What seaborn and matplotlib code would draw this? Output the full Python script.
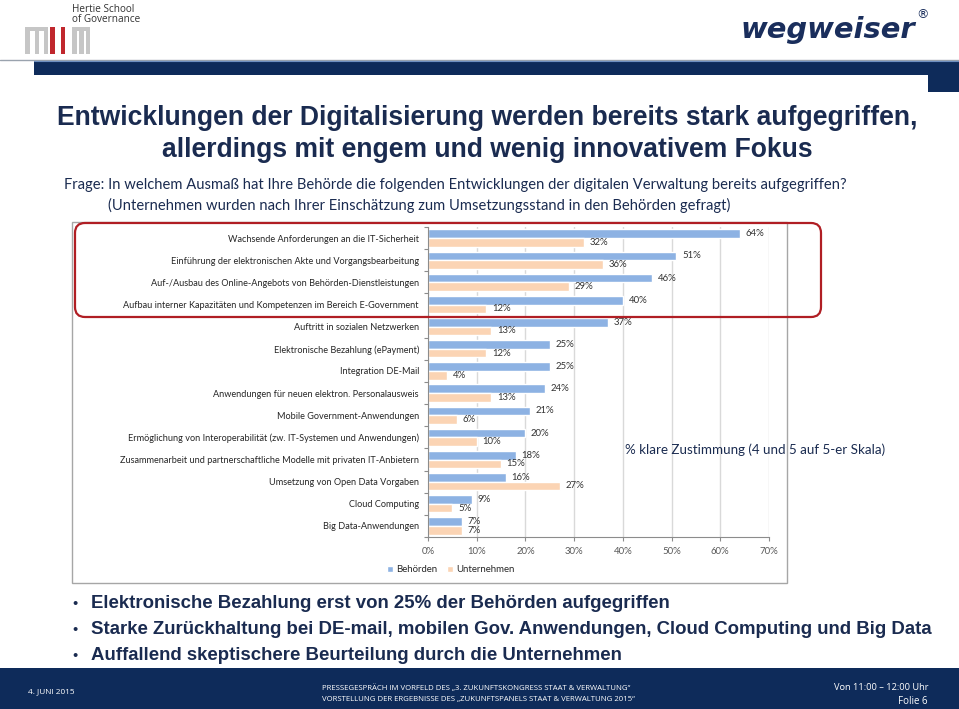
import matplotlib
matplotlib.use("Agg")
import matplotlib.pyplot as plt
from matplotlib.patches import Rectangle, FancyBboxPatch
from matplotlib.transforms import Affine2D
from matplotlib.lines import Line2D
import seaborn as sns
import pandas as pd
import numpy as np

# ---------------- data ----------------
categories = [
    "Wachsende Anforderungen an die IT-Sicherheit",
    "Einführung der elektronischen Akte und Vorgangsbearbeitung",
    "Auf-/Ausbau des Online-Angebots von Behörden-Dienstleistungen",
    "Aufbau interner Kapazitäten und Kompetenzen im Bereich E-Government",
    "Auftritt in sozialen Netzwerken",
    "Elektronische Bezahlung (ePayment)",
    "Integration DE-Mail",
    "Anwendungen für neuen elektron. Personalausweis",
    "Mobile Government-Anwendungen",
    "Ermöglichung von Interoperabilität (zw. IT-Systemen und Anwendungen)",
    "Zusammenarbeit und partnerschaftliche Modelle mit privaten IT-Anbietern",
    "Umsetzung von Open Data Vorgaben",
    "Cloud Computing",
    "Big Data-Anwendungen",
]
behoerden = [64, 51, 46, 40, 37, 25, 25, 24, 21, 20, 18, 16, 9, 7]
unternehmen = [32, 36, 29, 12, 13, 12, 4, 13, 6, 10, 15, 27, 5, 7]
series_names = ["Behörden", "Unternehmen"]
xticks = [0, 10, 20, 30, 40, 50, 60, 70]
xtick_labels = ["0%", "10%", "20%", "30%", "40%", "50%", "60%", "70%"]

title_lines = [
    "Entwicklungen der Digitalisierung werden bereits stark aufgegriffen,",
    "allerdings mit engem und wenig innovativem Fokus",
]
question_lines = [
    "Frage: In welchem Ausmaß hat Ihre Behörde die folgenden Entwicklungen der digitalen Verwaltung bereits aufgegriffen?",
    "(Unternehmen wurden nach Ihrer Einschätzung zum Umsetzungsstand in den Behörden gefragt)",
]
annotation = "% klare Zustimmung (4 und 5 auf 5-er Skala)"
bullets = [
    "Elektronische Bezahlung erst von 25% der Behörden aufgegriffen",
    "Starke Zurückhaltung bei DE-mail, mobilen Gov. Anwendungen, Cloud Computing und Big Data",
    "Auffallend skeptischere Beurteilung durch die Unternehmen",
]
footer_left = "4. JUNI 2015"
footer_center = [
    "PRESSEGESPRÄCH IM VORFELD DES „3. ZUKUNFTSKONGRESS STAAT & VERWALTUNG“",
    "VORSTELLUNG DER ERGEBNISSE DES „ZUKUNFTSPANELS STAAT & VERWALTUNG 2015“",
]
footer_right = ["Von 11:00 – 12:00 Uhr", "Folie 6"]

# ---------------- style ----------------
NAVY = "#0E2B5A"
TEXT_NAVY = "#1A2B50"
BLUE = "#8DB2E3"
ORANGE = "#FBD4B4"

sns.set_theme(style="white")
plt.rcParams["font.family"] = ["Lato", "DejaVu Sans"]

W, H = 959, 709
fig = plt.figure(figsize=(W / 100, H / 100), dpi=100)
fig.patch.set_facecolor("white")
PX = Affine2D().scale(0.01, -0.01).translate(0, H / 100) + fig.dpi_scale_trans
renderer = fig.canvas.get_renderer()


def fit_text(x, y, s, width=None, size=10, **kw):
    t = fig.text(x, y, s, transform=PX, fontsize=size, **kw)
    if width is not None:
        w = t.get_window_extent(renderer=renderer).width
        t.set_fontsize(size * width / w)
    return t


def rect(x, y, w, h, color, **kw):
    fig.patches.append(Rectangle((x, y), w, h, transform=PX, facecolor=color,
                                 edgecolor="none", **kw))

# ---------------- header ----------------
fig.add_artist(Line2D([0, W], [60, 60], transform=PX, color="#9AA3AE", lw=1))
rect(34, 61, W - 34, 14, NAVY)
fig.add_artist(Line2D([34, W], [61, 61], transform=PX, color="#6E8FC0", lw=0.8))
rect(928, 75, 31, 17, NAVY)

GRAY = "#C6C6C6"
RED = "#C0272D"
# logo
rect(25, 27, 23, 4, GRAY)
for lx in (25, 34.5, 43.5):
    rect(lx, 27, 4.5, 27, GRAY)
rect(50, 27, 4.5, 27, RED)
rect(60.5, 27, 4.5, 27, RED)
rect(72, 27, 18, 4, GRAY)
for lx in (72, 79, 85.5):
    rect(lx, 27, 4.5, 27, GRAY)
fit_text(72, 9, "Hertie School", size=7.2, color="#333333", va="center",
         family=["Open Sans", "DejaVu Sans"])
fit_text(72, 19, "of Governance", size=7.2, color="#333333", va="center",
         family=["Open Sans", "DejaVu Sans"])

fit_text(740, 30, "wegweiser", width=175, size=24, color="#1A2E5C",
         va="center", ha="left", weight="heavy", style="italic",
         family=["DejaVu Sans"])
fit_text(916, 15, "®", size=9, color="#1A2E5C", va="center", ha="left",
         family=["DejaVu Sans"])

# ---------------- title & question ----------------
t1 = fit_text(487, 118, title_lines[0], width=863, size=17, color=TEXT_NAVY,
              ha="center", va="center", weight="bold",
              family=["Liberation Sans", "DejaVu Sans"])
fit_text(487, 150, title_lines[1], size=t1.get_fontsize(), color=TEXT_NAVY,
         ha="center", va="center", weight="bold",
         family=["Liberation Sans", "DejaVu Sans"])
q1 = fit_text(64, 185, question_lines[0], width=781, size=10, color=TEXT_NAVY,
              ha="left", va="center")
fit_text(108, 205, question_lines[1], size=q1.get_fontsize(), color=TEXT_NAVY,
         ha="left", va="center")

# ---------------- chart ----------------
fig.patches.append(Rectangle((72, 222), 715, 361, transform=PX, facecolor="none",
                             edgecolor="#A6A6A6", lw=1))

ax_left, ax_right, ax_top, ax_bot = 428, 769, 227, 537
ax = fig.add_axes([ax_left / W, 1 - ax_bot / H, (ax_right - ax_left) / W,
                   (ax_bot - ax_top) / H])
df = pd.DataFrame({
    "Kategorie": categories * 2,
    "Wert": behoerden + unternehmen,
    "Gruppe": [series_names[0]] * len(categories) + [series_names[1]] * len(categories),
})
sns.barplot(data=df, y="Kategorie", x="Wert", hue="Gruppe", orient="h",
            palette=[BLUE, ORANGE], saturation=1, width=0.78, ax=ax,
            order=categories, hue_order=series_names, errorbar=None)
ax.set_xlim(0, 70)
ax.set_xticks(xticks)
ax.set_xticklabels(xtick_labels)
ax.set_xlabel("")
ax.set_ylabel("")
ax.set_facecolor("none")
ax.grid(axis="x", color="#D9D9D9", lw=1)
ax.grid(axis="y", visible=False)
ax.set_axisbelow(True)
for side in ("top", "right"):
    ax.spines[side].set_visible(False)
for side in ("left", "bottom"):
    ax.spines[side].set_color("#8C8C8C")
    ax.spines[side].set_linewidth(0.8)
ax.set_yticks(np.arange(-0.5, len(categories), 1), minor=True)
ax.tick_params(axis="y", which="major", length=0, pad=6.5, labelsize=6.6,
               labelcolor="#262626")
ax.tick_params(axis="y", which="minor", length=3, width=0.8, color="#8C8C8C",
               left=True, direction="out")
ax.tick_params(axis="x", which="major", length=3, width=0.8, color="#8C8C8C",
               bottom=True, pad=4, labelsize=6.9, labelcolor="#595959")
for c in ax.containers:
    ax.bar_label(c, labels=[f"{v:g}%" for v in c.datavalues], padding=4,
                 fontsize=6.9, color="#333333")

leg = ax.legend(loc="center", bbox_to_anchor=(451 / W, 1 - 570 / H),
                bbox_transform=fig.transFigure, ncol=2, frameon=False,
                handlelength=0.6, handleheight=0.6, handletextpad=0.4,
                columnspacing=1.0, fontsize=6.9)
for t in leg.get_texts():
    t.set_color("#262626")

fit_text(625, 450, annotation, width=260, size=9, color=TEXT_NAVY,
         ha="left", va="center")

fig.patches.append(FancyBboxPatch((75, 223), 746, 94,
                                  boxstyle="round,pad=0,rounding_size=10",
                                  transform=PX, facecolor="none",
                                  edgecolor="#B01E24", lw=1.6))

# ---------------- bullets ----------------
b2 = fit_text(91, 630, bullets[1], width=842, size=12, color=TEXT_NAVY,
              ha="left", va="center", weight="bold",
              family=["Liberation Sans", "DejaVu Sans"])
bsize = b2.get_fontsize()
for i, yy in enumerate([604, 630, 656]):
    if i != 1:
        fit_text(91, yy, bullets[i], size=bsize, color=TEXT_NAVY, ha="left",
                 va="center", weight="bold",
                 family=["Liberation Sans", "DejaVu Sans"])
    fit_text(75, yy, "•", size=bsize * 0.8, color=TEXT_NAVY, ha="center",
             va="center", family=["Liberation Sans", "DejaVu Sans"])

# ---------------- footer ----------------
rect(0, 668, W, 41, NAVY)
fit_text(28, 692, footer_left, width=47, size=6, color="white", ha="left",
         va="center", family=["Open Sans", "DejaVu Sans"])
c1 = fit_text(322, 688, footer_center[0], width=314, size=6, color="white",
              ha="left", va="center", family=["Open Sans", "DejaVu Sans"])
fit_text(322, 700, footer_center[1], size=c1.get_fontsize(), color="white",
         ha="left", va="center", family=["Open Sans", "DejaVu Sans"])
fit_text(928, 688, footer_right[0], width=95, size=7, color="white",
         ha="right", va="center", family=["Open Sans", "DejaVu Sans"])
fit_text(928, 702, footer_right[1], size=7, color="white",
         ha="right", va="center", family=["Open Sans", "DejaVu Sans"])

fig.savefig("out.png", dpi=100)
